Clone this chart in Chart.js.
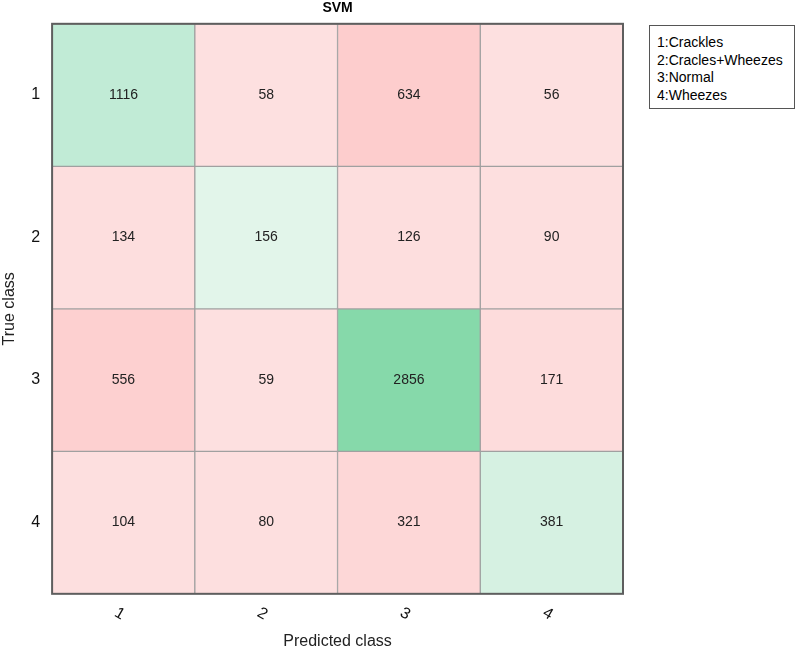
<!DOCTYPE html>
<html>
<head>
<meta charset="utf-8">
<script src="https://cdn.jsdelivr.net/npm/chart.js@4.4.1/dist/chart.umd.min.js"></script>
<style>
  body { margin: 0; background: #fff; }
  #wrap { position: relative; width: 797px; height: 650px; }
  #legendBox {
    position: absolute; left: 649px; top: 25px; width: 146px; height: 84px;
    border: 1px solid #555; background: #fff;
    font-family: "Liberation Sans", Arial, sans-serif; font-size: 14px;
    line-height: 17.5px; color: #000; padding: 8px 0 0 7px; box-sizing: border-box;
  }
</style>
</head>
<body>
<div id="wrap">
  <canvas id="myChart" width="797" height="650"></canvas>
  <div id="legendBox"></div>
</div>
<script>
const classes = ["1", "2", "3", "4"];
const classNames = ["1:Crackles", "2:Cracles+Wheezes", "3:Normal", "4:Wheezes"];

// rows = true class, columns = predicted class
const trueClass1 = [1116, 58, 634, 56];
const trueClass2 = [134, 156, 126, 90];
const trueClass3 = [556, 59, 2856, 171];
const trueClass4 = [104, 80, 321, 381];
const matrix = [trueClass1, trueClass2, trueClass3, trueClass4];

const chart = document.querySelector("#myChart");
document.querySelector("#legendBox").innerHTML = classNames.map((n) => `<div>${n}</div>`).join("");

// colours (style only)
const diagShades = ["#c1ebd6", "#e2f5ea", "#86d9aa", "#d6f1e2"];
const offColor = (v) => {
  const g = Math.round(226 - (21 * v) / 634);
  return `rgb(253,${g},${g})`;
};

const datasets = matrix.map((row, i) => ({
  label: classes[i],
  data: row.map(() => [i + 0.5, i + 1.5]),
  counts: row,
  backgroundColor: row.map((v, j) => (i === j ? diagShades[i] : offColor(v))),
  borderColor: "#a0a0a0",
  borderWidth: 1,
  borderSkipped: false,
  barPercentage: 1,
  categoryPercentage: 1,
  grouped: false,
}));

const cellText = {
  id: "cellText",
  afterDatasetsDraw(c) {
    const ctx = c.ctx;
    ctx.save();
    ctx.font = "14px 'Liberation Sans', Arial, sans-serif";
    ctx.fillStyle = "#222";
    ctx.textAlign = "center";
    ctx.textBaseline = "middle";
    c.data.datasets.forEach((ds, i) => {
      c.getDatasetMeta(i).data.forEach((bar, j) => {
        const p = bar.getCenterPoint();
        ctx.fillText(ds.counts[j], p.x, p.y);
      });
    });
    const a = c.chartArea;
    ctx.strokeStyle = "#5e5e5e";
    ctx.lineWidth = 2;
    ctx.strokeRect(a.left, a.top, a.right - a.left, a.bottom - a.top);
    ctx.restore();
  },
};

const font = { family: "'Liberation Sans', Arial, sans-serif", size: 16 };

new Chart(chart, {
  type: "bar",
  data: { labels: classes, datasets },
  options: {
    responsive: false,
    animation: false,
    layout: { padding: { left: 0, right: 174, top: 0, bottom: 0 } },
    plugins: {
      legend: { display: false },
      tooltip: { enabled: false },
      title: {
        display: true,
        text: "SVM",
        fullSize: false,
        color: "#000",
        font: { family: font.family, size: 14, weight: "bold" },
        padding: { top: 0, bottom: 7 },
      },
    },
    scales: {
      x: {
        type: "category",
        offset: true,
        grid: { display: false, drawTicks: false },
        border: { display: false },
        ticks: { color: "#111", font, padding: 14, minRotation: -30, maxRotation: -30 },
        title: { display: true, text: "Predicted class", color: "#222", font: { ...font, lineHeight: 1 }, padding: { top: 0, bottom: 0 } },
      },
      y: {
        type: "linear",
        reverse: true,
        min: 0.5,
        max: 4.5,
        afterBuildTicks: (axis) => {
          axis.ticks = classes.map((c, i) => ({ value: i + 1 }));
        },
        grid: { display: false, drawTicks: false },
        border: { display: false },
        ticks: { color: "#111", font, padding: 12, callback: (v) => classes[v - 1] },
        title: { display: true, text: "True class", color: "#222", font, padding: { top: 0, bottom: 0 } },
      },
    },
  },
  plugins: [cellText],
});
</script>
</body>
</html>
